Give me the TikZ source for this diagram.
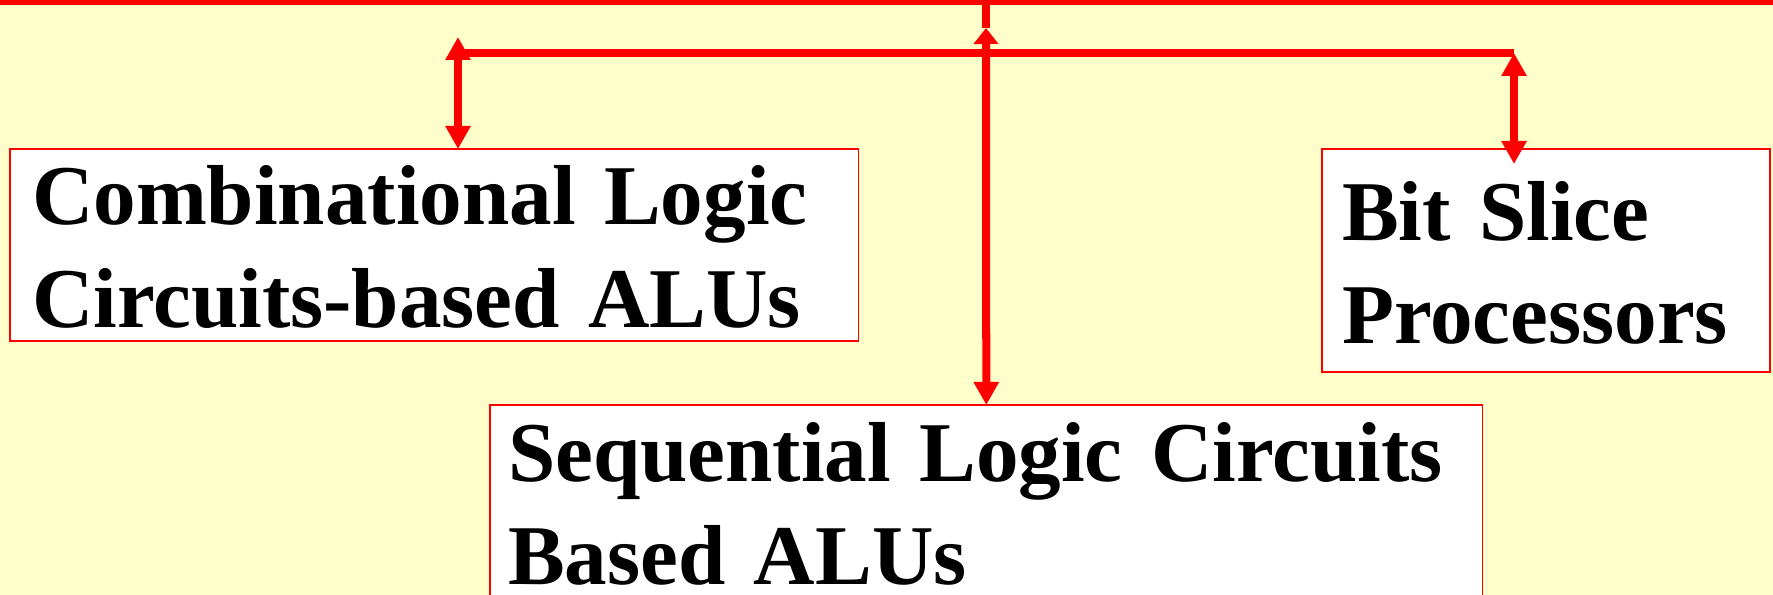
\documentclass[tikz,border=0pt]{standalone}
\usepackage{fontspec}
\setmainfont{Liberation Serif}
\usetikzlibrary{arrows.meta,positioning,calc}
\definecolor{slideYellow}{RGB}{255,255,204}
\definecolor{slideRed}{RGB}{255,0,0}

\begin{document}
\begin{tikzpicture}[x=0.01cm, y=-0.01cm,
  box/.style={draw=slideRed, line width=0.018cm, fill=white, anchor=north west,
              inner xsep=0.2cm, inner ysep=0pt, outer sep=0pt, align=left,
              font=\bfseries\fontsize{24.2pt}{29.3pt}\selectfont},
  link/.style={draw=slideRed, line width=0.08cm},
  >={Triangle[width=0.24cm, length=0.23cm]}
]
  \useasboundingbox (0,0) rectangle (1773,595);
  \fill[slideYellow] (0,0) rectangle (1773,595);
  \fill[slideRed] (0,0) rectangle (1773,5);

  \node[box, text width=8.04cm, text height=0.75cm, text depth=1.17cm, inner xsep=0.22cm]
    (comb) at (10,149) {Combinational Logic\\Circuits-based ALUs};
  \node[box, text width=4.08cm, text height=0.91cm, text depth=1.32cm]
    (bsp) at (1322,149) {Bit Slice\\Processors};
  \node[box, text width=9.56cm, text height=0.76cm, text depth=1.17cm, inner xsep=0.18cm]
    (seq) at (490,405) {Sequential Logic Circuits\\Based ALUs};

  \coordinate (ltip) at (458,37);
  \coordinate (rtop) at (1514,53);
  \coordinate (ctop) at (986,0);
  \coordinate (ctip) at (986,28);

  \draw[link] (ctop) -- (ctip);
  \draw[link, {Triangle[width=0.24cm, length=0.16cm]}->] (ctip) -- (seq.north);
  \draw[link] (ltip |- rtop) -- (rtop);
  \draw[link, <->] (ltip) -- (ltip |- comb.north);
  \draw[link, <->] (rtop) -- ($(rtop |- bsp.north)+(0,15)$);
\end{tikzpicture}
\end{document}
